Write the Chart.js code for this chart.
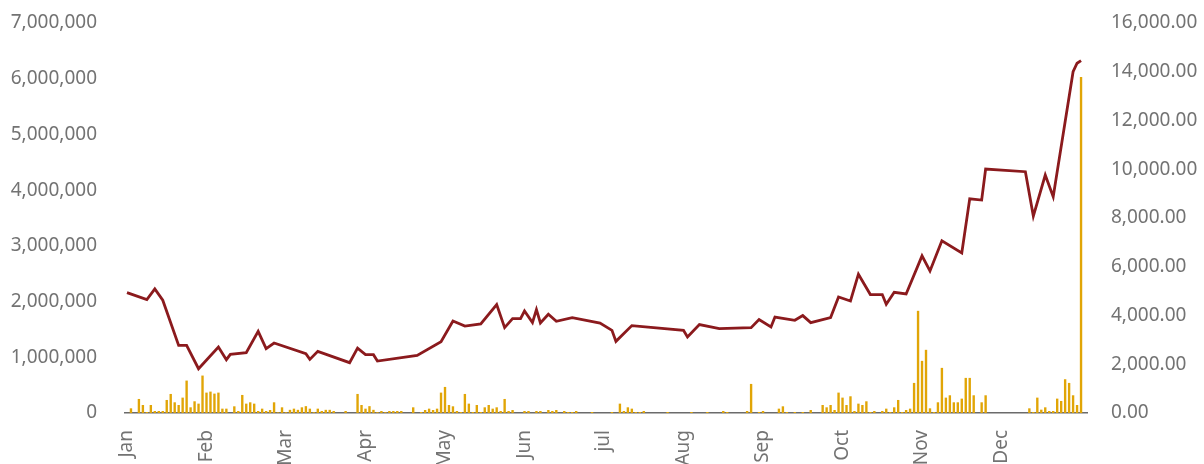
<!DOCTYPE html>
<html>
<head>
<meta charset="utf-8">
<script src="https://cdn.jsdelivr.net/npm/chart.js@4.4.1/dist/chart.umd.min.js"></script>
<style>
  html, body { margin: 0; padding: 0; background: #ffffff; }
  #wrap { width: 1204px; height: 464px; position: relative; }
</style>
</head>
<body>
<div id="wrap"><canvas id="c"></canvas></div>
<script>
// ---- data ----
const slotCount = 242;
const monthLabels = ['Jan','Feb','Mar','Apr','May','Jun','jul','Aug','Sep','Oct','Nov','Dec'];
const monthSlots = [0,20,40,60,80,100,120,140,160,180,200,220];

const volumeSlots = [1,3,4,5,6,7,8,9,10,11,12,13,14,15,16,17,18,19,20,21,22,23,24,25,27,28,29,30,31,32,33,34,35,36,37,38,39,40,41,42,43,44,45,46,47,48,49,50,51,52,55,58,59,60,61,62,63,64,65,66,67,68,69,72,74,75,76,77,78,79,80,81,82,83,84,85,86,87,88,89,90,91,92,93,94,95,96,97,100,101,103,104,106,107,108,110,111,112,113,117,122,124,125,126,127,128,129,130,136,142,146,150,151,156,157,159,160,164,165,166,168,170,172,175,176,177,178,179,180,181,182,183,184,185,186,187,188,190,191,192,193,194,195,196,197,198,199,200,201,202,203,204,205,206,207,208,209,210,211,212,213,215,216,227,228,229,230,231,232,233,234,235,236,237,238,239,240];
const volumeValues = [84000,252000,144000,18000,144000,36000,36000,36000,234000,342000,192000,144000,276000,582000,102000,210000,168000,672000,366000,384000,348000,366000,78000,78000,120000,36000,324000,168000,192000,168000,36000,78000,36000,54000,192000,12000,102000,15000,57000,78000,57000,102000,123000,78000,15000,78000,36000,57000,57000,36000,36000,342000,144000,78000,123000,57000,15000,36000,15000,36000,36000,36000,36000,102000,18000,54000,78000,54000,78000,366000,468000,144000,120000,36000,18000,342000,168000,18000,144000,18000,102000,144000,78000,102000,36000,252000,36000,54000,36000,36000,36000,36000,54000,36000,54000,36000,18000,18000,36000,18000,18000,168000,36000,102000,78000,18000,18000,36000,18000,18000,18000,36000,18000,36000,522000,18000,36000,78000,120000,18000,18000,18000,54000,144000,102000,144000,54000,366000,276000,144000,300000,36000,168000,144000,210000,18000,36000,36000,78000,18000,102000,234000,18000,54000,78000,540000,1834000,936000,1134000,84000,18000,192000,810000,276000,318000,192000,192000,258000,630000,630000,318000,192000,318000,84000,18000,276000,60000,102000,36000,36000,258000,216000,606000,540000,318000,144000,6030000];

const priceSlots = [0,5,7,9,13,15,18,23,25,26,30,33,35,37,45,46,48,56,58,60,62,63,73,79,82,85,89,93,95,97,99,100,102,103,104,106,108,112,119,122,123,127,140,141,144,149,157,159,162,163,168,170,172,177,179,182,184,187,190,191,193,196,200,202,205,210,212,215,216,226,228,231,233,238,239,240];
const priceValues = [4941,4654,5090,4625,2775,2775,1817,2705,2187,2405,2475,3350,2639,2870,2434,2199,2528,2064,2664,2393,2393,2130,2364,2927,3774,3568,3651,4448,3502,3872,3872,4185,3708,4243,3692,4049,3762,3914,3692,3392,2939,3585,3392,3116,3626,3461,3502,3831,3527,3938,3803,3996,3708,3914,4761,4596,5694,4859,4859,4460,4954,4884,6446,5830,7063,6569,8789,8736,10010,9899,8078,9764,8872,14000,14350,14460];

// ---- build library tables ----
const labels = Array.from({length: slotCount}, () => '');
monthSlots.forEach((s, k) => { labels[s] = monthLabels[k]; });
const volumeData = Array(slotCount).fill(null);
volumeSlots.forEach((s, k) => { volumeData[s] = volumeValues[k]; });
const priceData = Array(slotCount).fill(null);
priceSlots.forEach((s, k) => { priceData[s] = priceValues[k]; });

const FONT = { family: "'Noto Sans', 'Open Sans', sans-serif", size: 19 };
const TEXT = '#737373';

new Chart(document.getElementById('c'), {
  type: 'bar',
  data: {
    labels: labels,
    datasets: [
      {
        type: 'line',
        data: priceData,
        yAxisID: 'yPrice',
        borderColor: '#8B1A1D',
        borderWidth: 2.8,
        pointRadius: 0,
        tension: 0,
        spanGaps: true,
        order: 0
      },
      {
        type: 'bar',
        data: volumeData,
        yAxisID: 'yVol',
        backgroundColor: '#E1A506',
        barPercentage: 0.6,
        categoryPercentage: 1,
        order: 1
      }
    ]
  },
  options: {
    responsive: true,
    maintainAspectRatio: false,
    animation: false,
    layout: { padding: { top: 23, left: 0, right: 0, bottom: 0 } },
    plugins: { legend: { display: false }, tooltip: { enabled: false } },
    scales: {
      x: {
        offset: true,
        grid: { display: false, drawTicks: false },
        border: { display: true, color: '#6b6b6b', width: 1.5 },
        ticks: { autoSkip: false, maxRotation: 90, minRotation: 90, padding: 17, color: TEXT, font: FONT },
        afterFit: s => { s.height = 51; s.paddingLeft = 0; s.paddingRight = 0; }
      },
      yVol: {
        position: 'left',
        min: 0, max: 7000000,
        grid: { display: false, drawTicks: false },
        border: { display: false },
        ticks: {
          stepSize: 1000000, padding: 28, color: TEXT, font: FONT,
          callback: v => Number(v).toLocaleString('en-US')
        },
        afterFit: s => { s.width = 125; s.paddingTop = 0; s.paddingBottom = 0; }
      },
      yPrice: {
        position: 'right',
        min: 0, max: 16000,
        grid: { display: false, drawTicks: false },
        border: { display: false },
        ticks: {
          stepSize: 2000, padding: 24, color: TEXT, font: FONT,
          callback: v => Number(v).toLocaleString('en-US', { minimumFractionDigits: 2, maximumFractionDigits: 2 })
        },
        afterFit: s => { s.width = 117; s.paddingTop = 0; s.paddingBottom = 0; }
      }
    }
  }
});
</script>
</body>
</html>
